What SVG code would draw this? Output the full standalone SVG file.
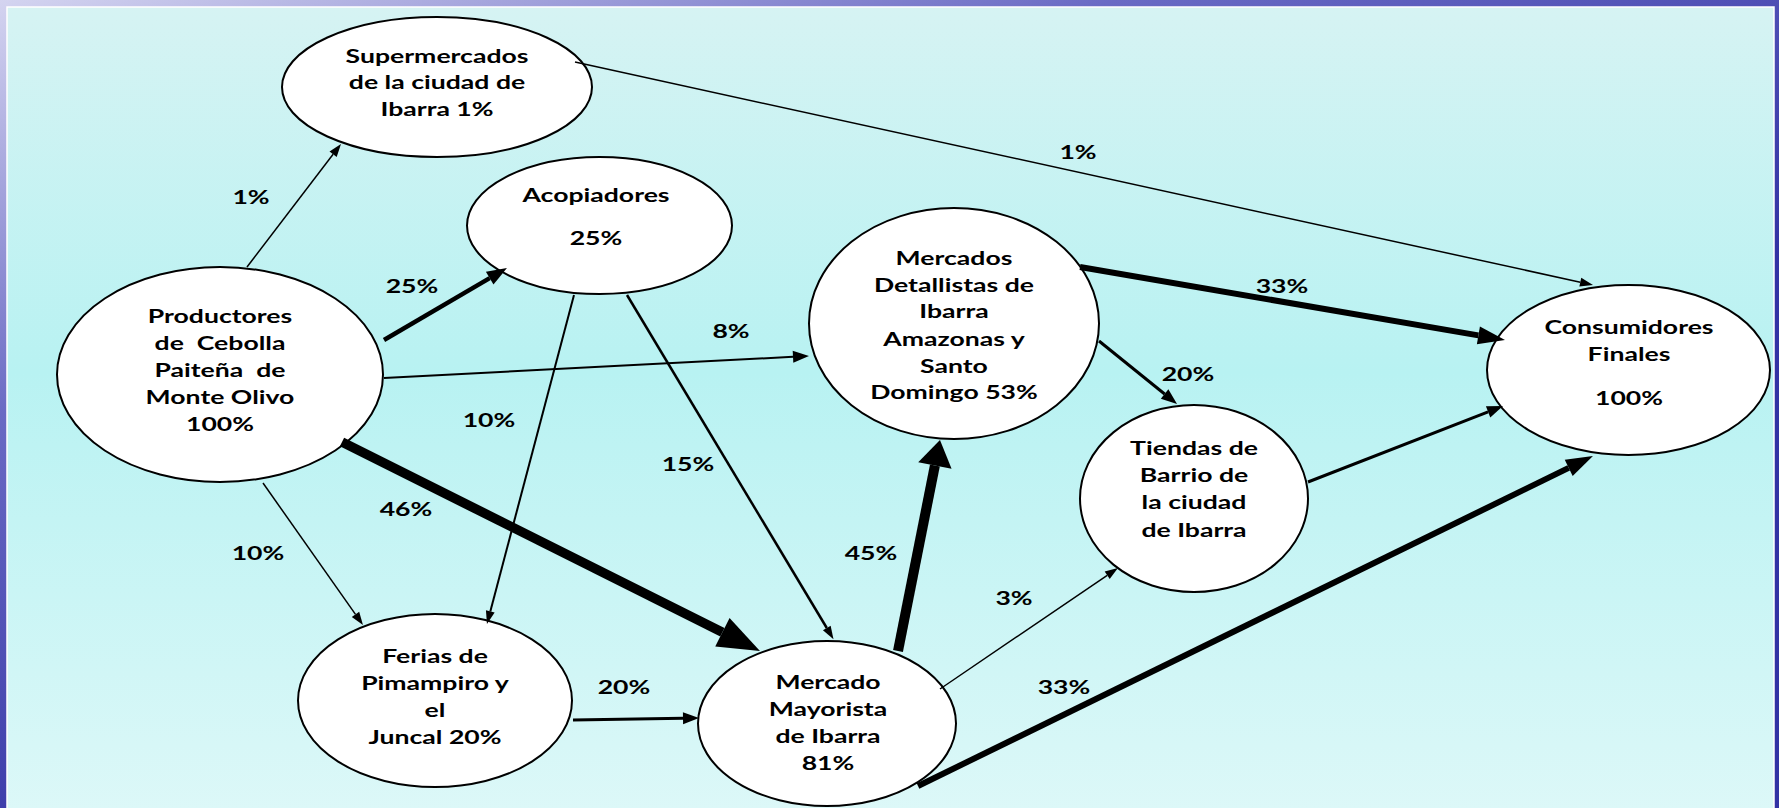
<svg xmlns="http://www.w3.org/2000/svg" width="1779" height="808" viewBox="0 0 1779 808">
<style>
.t{font-family:Lato,"Open Sans","Liberation Sans",sans-serif;font-weight:bold;font-size:19px;fill:#000;text-anchor:middle;white-space:pre}
.n{fill:#fff;stroke:#000;stroke-width:2}
.c{stroke:#000;fill:none}
</style>
<defs>
<linearGradient id="frame" gradientUnits="userSpaceOnUse" x1="0" y1="0" x2="300" y2="808">
<stop offset="0" stop-color="#d4d4f0"/><stop offset="0.45" stop-color="#6a6ac4"/><stop offset="1" stop-color="#3232a4"/>
</linearGradient>
<linearGradient id="panel" x1="0" y1="0" x2="0" y2="1">
<stop offset="0" stop-color="#d6f3f3"/><stop offset="0.45" stop-color="#b8f2f2"/><stop offset="1" stop-color="#ddf8f8"/>
</linearGradient>
<marker id="mS" markerUnits="userSpaceOnUse" markerWidth="14" markerHeight="10" refX="0" refY="5" orient="auto" overflow="visible"><path d="M0,0.5 L13,5 L0,9.5 Z" fill="#000"/></marker>
<marker id="mM" markerUnits="userSpaceOnUse" markerWidth="16" markerHeight="12" refX="0" refY="6" orient="auto" overflow="visible"><path d="M0,0 L16,6 L0,12 Z" fill="#000"/></marker>
<marker id="mT" markerUnits="userSpaceOnUse" markerWidth="20" markerHeight="15" refX="0" refY="7.5" orient="auto" overflow="visible"><path d="M0,0 L20,7.5 L0,15 Z" fill="#000"/></marker>
<marker id="mL" markerUnits="userSpaceOnUse" markerWidth="27" markerHeight="18" refX="0" refY="9" orient="auto" overflow="visible"><path d="M0,0 L27,9 L0,18 Z" fill="#000"/></marker>
<marker id="mXL" markerUnits="userSpaceOnUse" markerWidth="42" markerHeight="32" refX="0" refY="16" orient="auto" overflow="visible"><path d="M0,0 L42,16 L0,32 Z" fill="#000"/></marker>
<marker id="m45" markerUnits="userSpaceOnUse" markerWidth="26" markerHeight="34" refX="0" refY="17" orient="auto" overflow="visible"><path d="M0,0 L26,17 L0,34 Z" fill="#000"/></marker>
</defs>
<rect x="0" y="0" width="1779" height="808" fill="url(#frame)"/>
<rect x="7" y="7" width="1767" height="812" fill="url(#panel)" stroke="#ffffff" stroke-width="1.5"/>

<g id="n-supermercados">
<ellipse class="n" cx="437" cy="87" rx="155" ry="70"/>
<text class="t" transform="translate(437 0) scale(1.4 1)"><tspan x="0" y="63">Supermercados</tspan><tspan x="0" y="89">de la ciudad de</tspan><tspan x="0" y="116">Ibarra 1%</tspan></text>
</g>
<g id="n-acopiadores">
<ellipse class="n" cx="599.5" cy="225.5" rx="132.5" ry="68.5"/>
<text class="t" transform="translate(596 0) scale(1.4 1)"><tspan x="0" y="202">Acopiadores</tspan><tspan x="0" y="245">25%</tspan></text>
</g>
<g id="n-productores">
<ellipse class="n" cx="220" cy="374.5" rx="163" ry="107.5"/>
<text class="t" transform="translate(220 0) scale(1.4 1)"><tspan x="0" y="323">Productores</tspan><tspan x="0" y="350">de  Cebolla</tspan><tspan x="0" y="377">Paiteña  de</tspan><tspan x="0" y="404">Monte Olivo</tspan><tspan x="0" y="431">100%</tspan></text>
</g>
<g id="n-detallistas">
<ellipse class="n" cx="954" cy="323.5" rx="145" ry="115.5"/>
<text class="t" transform="translate(954 0) scale(1.4 1)"><tspan x="0" y="265">Mercados</tspan><tspan x="0" y="292">Detallistas de</tspan><tspan x="0" y="318">Ibarra</tspan><tspan x="0" y="346">Amazonas y</tspan><tspan x="0" y="373">Santo</tspan><tspan x="0" y="399">Domingo 53%</tspan></text>
</g>
<g id="n-consumidores">
<ellipse class="n" cx="1628.5" cy="370" rx="141.5" ry="85"/>
<text class="t" transform="translate(1629 0) scale(1.4 1)"><tspan x="0" y="334">Consumidores</tspan><tspan x="0" y="361">Finales</tspan><tspan x="0" y="405">100%</tspan></text>
</g>
<g id="n-tiendas">
<ellipse class="n" cx="1194" cy="498.5" rx="114" ry="93.5"/>
<text class="t" transform="translate(1194 0) scale(1.4 1)"><tspan x="0" y="455">Tiendas de</tspan><tspan x="0" y="482">Barrio de</tspan><tspan x="0" y="509">la ciudad</tspan><tspan x="0" y="537">de Ibarra</tspan></text>
</g>
<g id="n-ferias">
<ellipse class="n" cx="435" cy="700.5" rx="137" ry="86.5"/>
<text class="t" transform="translate(435 0) scale(1.4 1)"><tspan x="0" y="663">Ferias de</tspan><tspan x="0" y="690">Pimampiro y</tspan><tspan x="0" y="717">el</tspan><tspan x="0" y="744">Juncal 20%</tspan></text>
</g>
<g id="n-mayorista">
<ellipse class="n" cx="827" cy="723.5" rx="129" ry="82.5"/>
<text class="t" transform="translate(828 0) scale(1.4 1)"><tspan x="0" y="689">Mercado</tspan><tspan x="0" y="716">Mayorista</tspan><tspan x="0" y="743">de Ibarra</tspan><tspan x="0" y="770">81%</tspan></text>
</g>

<g id="connectors">
<line class="c" x1="247" y1="267" x2="333.1" y2="154.3" stroke-width="1.5" marker-end="url(#mS)"/>
<line class="c" x1="384" y1="340" x2="489.7" y2="278.1" stroke-width="4.5" marker-end="url(#mT)"/>
<line class="c" x1="384" y1="378" x2="793" y2="356.8" stroke-width="2" marker-end="url(#mM)"/>
<line class="c" x1="342" y1="442" x2="722.4" y2="632.2" stroke-width="9.5" marker-end="url(#mXL)"/>
<line class="c" x1="263" y1="483" x2="355.5" y2="614.4" stroke-width="1.5" marker-end="url(#mS)"/>
<line class="c" x1="574" y1="295" x2="490.3" y2="611.4" stroke-width="2" marker-end="url(#mS)"/>
<line class="c" x1="627" y1="295" x2="826.8" y2="628" stroke-width="2.5" marker-end="url(#mS)"/>
<line class="c" x1="573" y1="720" x2="683" y2="718.2" stroke-width="3" marker-end="url(#mM)"/>
<line class="c" x1="898" y1="651" x2="934.9" y2="465.5" stroke-width="10" marker-end="url(#m45)"/>
<line class="c" x1="940" y1="689" x2="1107.2" y2="575.3" stroke-width="1.5" marker-end="url(#mS)"/>
<line class="c" x1="918" y1="786" x2="1568.7" y2="467.9" stroke-width="6" marker-end="url(#mL)"/>
<line class="c" x1="1080" y1="267" x2="1478.4" y2="335.4" stroke-width="6" marker-end="url(#mL)"/>
<line class="c" x1="1099" y1="341" x2="1164.6" y2="394" stroke-width="3" marker-end="url(#mM)"/>
<line class="c" x1="1308" y1="482" x2="1488.1" y2="411.8" stroke-width="3" marker-end="url(#mM)"/>
<line class="c" x1="575" y1="62" x2="1580.3" y2="282.2" stroke-width="1.5" marker-end="url(#mS)"/>
<text class="t" transform="translate(251 0) scale(1.4 1)" x="0" y="204">1%</text>
<text class="t" transform="translate(412 0) scale(1.4 1)" x="0" y="293">25%</text>
<text class="t" transform="translate(731 0) scale(1.4 1)" x="0" y="338">8%</text>
<text class="t" transform="translate(406 0) scale(1.4 1)" x="0" y="516">46%</text>
<text class="t" transform="translate(258 0) scale(1.4 1)" x="0" y="560">10%</text>
<text class="t" transform="translate(489 0) scale(1.4 1)" x="0" y="427">10%</text>
<text class="t" transform="translate(688 0) scale(1.4 1)" x="0" y="471">15%</text>
<text class="t" transform="translate(624 0) scale(1.4 1)" x="0" y="694">20%</text>
<text class="t" transform="translate(871 0) scale(1.4 1)" x="0" y="560">45%</text>
<text class="t" transform="translate(1014 0) scale(1.4 1)" x="0" y="605">3%</text>
<text class="t" transform="translate(1064 0) scale(1.4 1)" x="0" y="694">33%</text>
<text class="t" transform="translate(1282 0) scale(1.4 1)" x="0" y="293">33%</text>
<text class="t" transform="translate(1188 0) scale(1.4 1)" x="0" y="381">20%</text>
<text class="t" transform="translate(1078 0) scale(1.4 1)" x="0" y="159">1%</text>
</g>
</svg>
